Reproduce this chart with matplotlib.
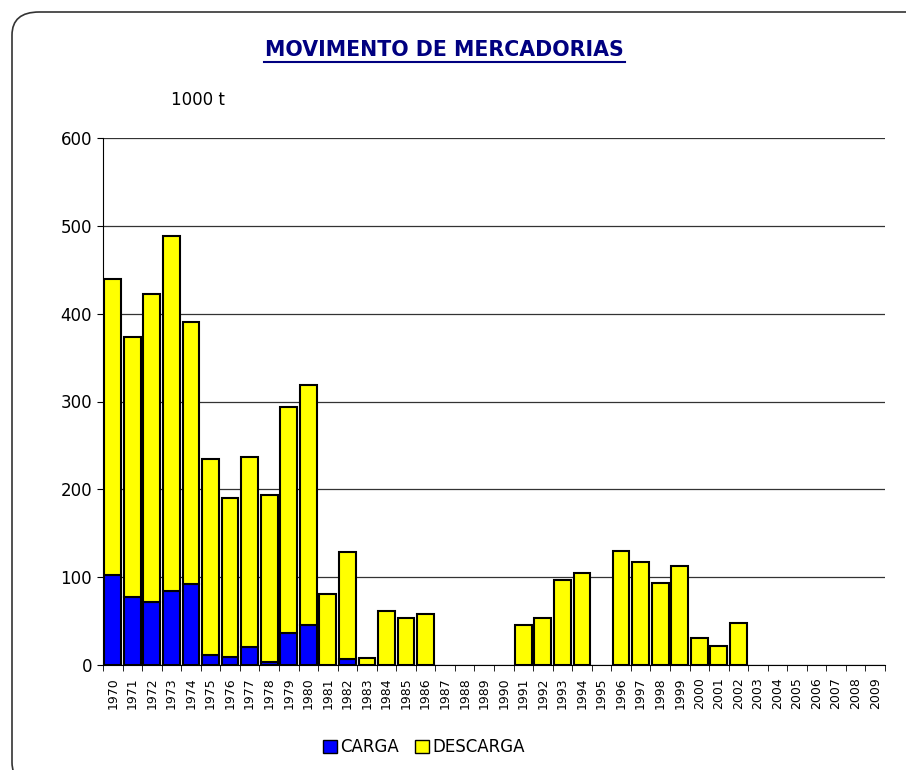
import matplotlib
matplotlib.use("Agg")
import matplotlib.pyplot as plt
from matplotlib.patches import FancyBboxPatch, Patch
import numpy as np

years = [str(y) for y in range(1970, 2010)]
carga = [102, 77, 72, 84, 92, 11, 9, 21, 3, 37, 46,
         0, 7, 0, 0, 0, 0, 0, 0, 0, 0,
         0, 0, 0, 0, 0, 0, 0, 0, 0, 0,
         0, 0, 0, 0, 0, 0, 0, 0, 0]
total = [440, 373, 422, 488, 391, 235, 190, 237, 193, 294, 319,
         81, 129, 8, 62, 54, 58, 0, 0, 0, 0,
         45, 54, 97, 105, 0, 130, 117, 93, 113, 31,
         22, 48, 0, 0, 0, 0, 0, 0, 0]
descarga = [t - c for t, c in zip(total, carga)]

plt.rcParams['font.family'] = ['DejaVu Sans']

fig = plt.figure(figsize=(9.06, 7.70), dpi=100)
ax = fig.add_axes([103 / 906, 1 - 665 / 770, 782 / 906, 527 / 770])

# rounded frame round the whole chart
frame = FancyBboxPatch((12 / 906, -0.02), 1.1, 1 - 12 / 770 + 0.02,
                       boxstyle="round,pad=0,rounding_size=0.03",
                       transform=fig.transFigure, fill=False,
                       edgecolor='#333333', linewidth=1.2, clip_on=False)
fig.patches.append(frame)

x = np.arange(len(years))
w = 0.86
# only draw non-empty segments, so empty years get no edge line
ic = [i for i in x if carga[i] > 0]
idn = [i for i in x if descarga[i] > 0]
ax.bar(ic, [carga[i] for i in ic], w, color='#0000FF', edgecolor='black',
       linewidth=1.5, zorder=3)
ax.bar(idn, [descarga[i] for i in idn], w, bottom=[carga[i] for i in idn],
       color='#FFFF00', edgecolor='black', linewidth=1.5, zorder=3)

ax.set_xlim(-0.5, len(years) - 0.5)
ax.set_ylim(0, 600)
ax.set_yticks(range(0, 601, 100))
ax.yaxis.grid(True, color='#333333', linewidth=0.9, zorder=0)
ax.set_xticks(x)
ax.set_xticklabels(years, rotation=90, fontsize=9)
ax.set_xticks(np.arange(-0.5, len(years), 1), minor=True)
ax.tick_params(axis='x', which='major', length=0, pad=9)
ax.tick_params(axis='x', which='minor', length=4, color='black')
ax.tick_params(axis='y', length=4, labelsize=12, pad=4)
for s in ['top', 'right']:
    ax.spines[s].set_visible(False)
ax.spines['left'].set_color('black')
ax.spines['bottom'].set_color('black')

fig.text(444.5 / 906, 1 - 50 / 770, 'MOVIMENTO DE MERCADORIAS', ha='center',
         va='center', fontsize=14.8, fontweight='bold', color='#000080')
fig.add_artist(plt.Line2D([264 / 906, 625 / 906], [1 - 61.5 / 770, 1 - 61.5 / 770],
                          color='#000080', linewidth=1.5))
fig.text(171 / 906, 1 - 100 / 770, '1000 t', ha='left', va='center', fontsize=12)

handles = [Patch(facecolor='#0000FF', edgecolor='black', label='CARGA'),
           Patch(facecolor='#FFFF00', edgecolor='black', label='DESCARGA')]
fig.legend(handles=handles, loc='center', bbox_to_anchor=(424 / 906, 1 - 747 / 770),
           ncol=2, frameon=False, fontsize=12, handlelength=0.8, handleheight=0.8,
           handletextpad=0.2, columnspacing=1.0, borderpad=0)

fig.savefig('out.png', dpi=100)
